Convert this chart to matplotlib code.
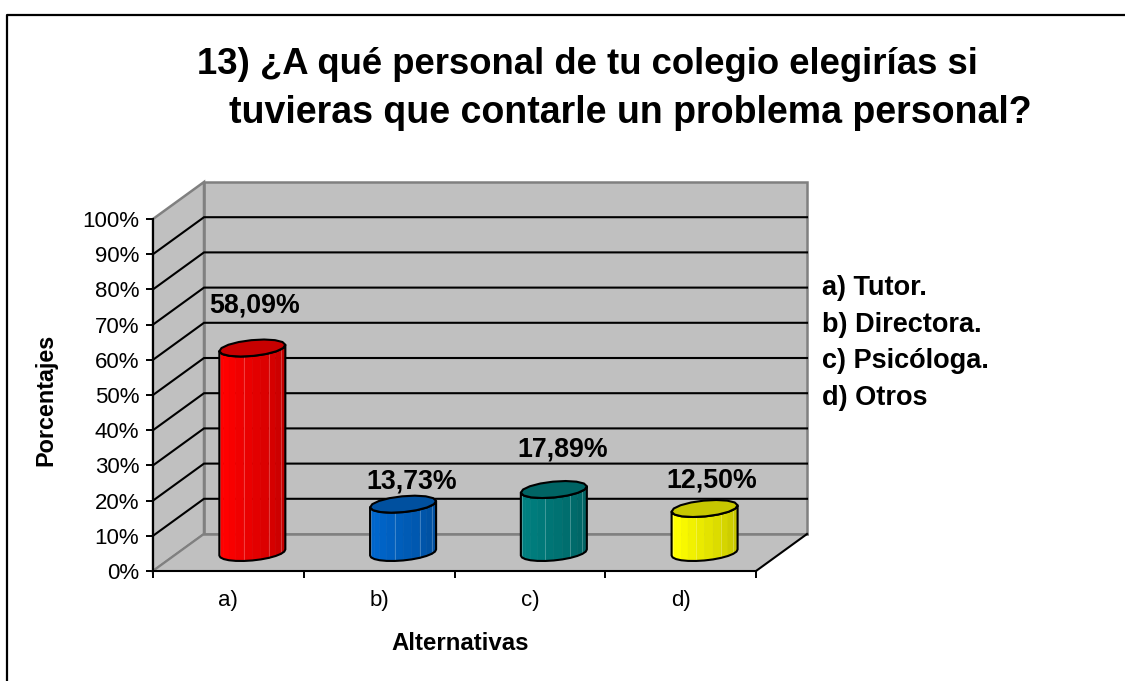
import matplotlib
matplotlib.use('Agg')
import matplotlib.pyplot as plt
from matplotlib.lines import Line2D
from matplotlib.patches import Polygon
from matplotlib.colors import to_rgb
import numpy as np

plt.rcParams['font.family'] = ['Liberation Sans', 'DejaVu Sans']

title_1 = '13) ¿A qué personal de tu colegio elegirías si'
title_2 = 'tuvieras que contarle un problema personal?'
categories = ['a)', 'b)', 'c)', 'd)']
values = [58.09, 13.73, 17.89, 12.50]
value_labels = ['58,09%', '13,73%', '17,89%', '12,50%']
colors = ['#FF0000', '#0066CC', '#008080', '#FFFF00']
legend_items = ['a) Tutor.', 'b) Directora.', 'c) Psicóloga.', 'd) Otros']
y_ticks = list(range(0, 101, 10))

W, H = 1125, 681
fig = plt.figure(figsize=(W / 100, H / 100), dpi=100)
# plot box of the front plane, in pixels: x 153-756, y 219-571
ax = fig.add_axes([153 / W, 1 - 571 / H, 603 / W, 352 / H])
ax.set_xlim(0, 4)
ax.set_ylim(0, 100)
ax.patch.set_visible(False)

# depth of the fake 3d box, in data units
DX = 51 / 603 * 4
DY = 37 / 352 * 100
WALL = '#C0C0C0'
EDGE = '#808080'

ax.add_patch(Polygon([(DX, DY), (4 + DX, DY), (4 + DX, 100 + DY), (DX, 100 + DY)],
                     fc=WALL, ec=EDGE, lw=1.8, clip_on=False, zorder=1))
ax.add_patch(Polygon([(0, 0), (DX, DY), (DX, 100 + DY), (0, 100)],
                     fc=WALL, ec=EDGE, lw=1.8, clip_on=False, zorder=1))
for v in y_ticks[1:-1]:
    ax.plot([0, DX, 4 + DX], [v, v + DY, v + DY], color='black', lw=1.5,
            clip_on=False, zorder=2, solid_joinstyle='miter')
ax.add_patch(Polygon([(0, 0), (4, 0), (4 + DX, DY), (DX, DY)],
                     fc=WALL, ec='none', clip_on=False, zorder=3))
ax.plot([DX, 4 + DX], [DY, DY], color=EDGE, lw=1.8, clip_on=False, zorder=3)
ax.plot([0, DX], [0, DY], color=EDGE, lw=1.5, clip_on=False, zorder=3)
ax.plot([4, 4 + DX], [0, DY], color='black', lw=1.5, clip_on=False, zorder=3)


def shade(color, k):
    return tuple(c * k for c in to_rgb(color))


def cylinder(x0, value, color):
    # oblique cylinder standing half way into the floor
    cx = x0 + 0.47 * DX
    cy = 0.5 * DY
    rx = 0.41 * 66 / 603 * 4 * 1.14
    f = 0.23
    phi = np.arctan2(f * DX, rx)
    t = np.linspace(np.pi + phi, 2 * np.pi + phi, 13)
    px = cx + rx * np.cos(t) + f * DX * np.sin(t)
    py = f * DY * np.sin(t)
    n = len(t) - 1
    for i in range(n):
        k = 1.0 if i < 3 else 1.0 - 0.25 * (i - 2) / (n - 3)
        ax.add_patch(Polygon([(px[i], cy + py[i]), (px[i + 1], cy + py[i + 1]),
                              (px[i + 1], cy + py[i + 1] + value), (px[i], cy + py[i] + value)],
                             fc=shade(color, k), ec=shade(color, k), lw=0.4, clip_on=False, zorder=4))
        if i in (0, 4, 7, 9):
            light = tuple(0.35 + 0.65 * c for c in shade(color, k))
            ax.plot([px[i + 1]] * 2, [cy + py[i + 1], cy + py[i + 1] + value], color=light,
                    lw=0.5, clip_on=False, zorder=5)
    # outline of the body
    ox = np.concatenate([px, px[::-1]])
    oy = np.concatenate([cy + py, cy + py[::-1] + value])
    ax.add_patch(Polygon(np.column_stack([ox, oy]), fc='none', ec='black', lw=1.5,
                         joinstyle='round', clip_on=False, zorder=6))
    # top face
    t2 = np.linspace(0, 2 * np.pi, 17)
    tx = cx + rx * np.cos(t2) + f * DX * np.sin(t2)
    ty = cy + value + f * DY * np.sin(t2)
    ax.add_patch(Polygon(np.column_stack([tx, ty]), fc=shade(color, 0.78), ec='black', lw=1.5,
                         joinstyle='round', clip_on=False, zorder=7))


for i, v in enumerate(values):
    cylinder(i + 0.5, v, colors[i])

# labels were placed by hand in the original, so the gaps differ
label_dx = [0.013, 0.056, 0.058, 0.05]
label_gap = [12.0, 6.5, 11.5, 8.0]
for i, v in enumerate(values):
    ax.text(i + 0.5 + 0.47 * DX + label_dx[i], 0.5 * DY + v + label_gap[i], value_labels[i],
            ha='center', va='center', fontsize=19.3, fontweight='bold', color='black', zorder=8)

for s in ['top', 'right']:
    ax.spines[s].set_visible(False)
for s in ['left', 'bottom']:
    ax.spines[s].set_linewidth(1.5)
    ax.spines[s].set_zorder(9)
ax.set_yticks(y_ticks)
ax.set_yticklabels([f'{v}%' for v in y_ticks], fontsize=16)
ax.set_xticks(range(5))
ax.set_xticklabels([])
ax.set_xticks([i + 0.5 for i in range(4)], minor=True)
ax.set_xticklabels(categories, minor=True, fontsize=16)
ax.tick_params(axis='x', which='minor', length=0, pad=14)
ax.tick_params(axis='x', which='major', length=5, width=1.4)
ax.tick_params(axis='y', length=5, width=1.4, pad=5)


def fig_text(x, y, s, **kw):
    fig.text(x / W, 1 - y / H, s, **kw)


fig_text(197, 65, title_1, fontsize=26.3, fontweight='bold', ha='left', va='center')
fig_text(229, 113, title_2, fontsize=27, fontweight='bold', ha='left', va='center')
fig_text(460, 644, 'Alternativas', fontsize=17.3, fontweight='bold', ha='center', va='center')
fig_text(46, 400, 'Porcentajes', fontsize=16.8, fontweight='bold', ha='center', va='center', rotation=90)
for i, item in enumerate(legend_items):
    fig_text(822, 288 + 36.7 * i, item, fontsize=19.5, fontweight='bold', ha='left', va='center')

# chart border, runs off the picture at the right and bottom
fig.add_artist(Line2D([7 / W, 7 / W, 1], [0, 1 - 15 / H, 1 - 15 / H], color='black', lw=1.6))

fig.savefig('out.png', dpi=100)
